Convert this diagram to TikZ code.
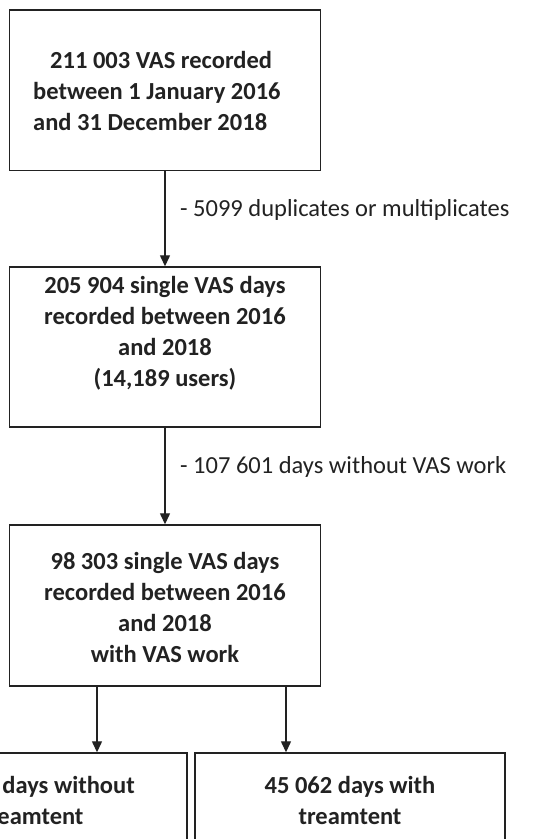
\documentclass[tikz,border=0pt]{standalone}
\usepackage{fontspec}
\setmainfont{Carlito}
\usetikzlibrary{arrows.meta}
\definecolor{ink}{HTML}{222222}
\begin{document}
\begin{tikzpicture}[x=1pt,y=-1pt,
  box/.style={draw=ink, line width=1.4pt, inner sep=0pt},
  lbl/.style={font=\fontsize{24.5}{31}\selectfont\bfseries, text=ink, align=center, inner sep=0pt},
  note/.style={font=\fontsize{24.5}{31}\selectfont, text=ink, anchor=west, inner sep=0pt},
  arr/.style={line width=1.3pt, draw=ink, -{Triangle[length=11pt,width=10pt]}}]
\clip (0,0) rectangle (538,839);
\fill[white] (0,0) rectangle (538,839);
% boxes
\node[box, minimum width=311pt, minimum height=160.5pt] (b1) at (165,90.25) {};
\node[box, minimum width=311pt, minimum height=160pt] (b2) at (165,347) {};
\node[box, minimum width=311pt, minimum height=161pt] (b3) at (165,605.5) {};
\node[box, minimum width=310pt, minimum height=150pt] (b4) at (32,828) {};
\node[box, minimum width=310pt, minimum height=150pt] (b5) at (350,828) {};
% texts
\node[lbl, align=left, anchor=west] (t1) at (33,91) {\hspace*{17pt}211 003 VAS recorded\\between 1 January 2016\\and 31 December 2018};
\node[lbl] (t2) at (165,333) {205 904 single VAS days\\recorded between 2016\\and 2018\\(14,189 users)};
\node[lbl] (t3) at (165,607) {98 303 single VAS days\\recorded between 2016\\and 2018\\with VAS work};
\node[lbl] (t4) at (32,800) {53 241 days without\\treamtent};
\node[lbl] (t5) at (350,800) {45 062 days with\\treamtent};
% arrows
\draw[arr] (b1.south) -- (b2.north);
\draw[arr] (b2.south) -- (b3.north);
\coordinate (c4) at (97,0);
\coordinate (c5) at (286,0);
\draw[arr] (b3.south -| c4) -- (b4.north -| c4);
\draw[arr] (b3.south -| c5) -- (b5.north -| c5);
% side notes
\node[note] (n1) at (180,210) {- 5099 duplicates or multiplicates};
\node[note] (n2) at (180,467) {- 107 601 days without VAS work};
\end{tikzpicture}
\end{document}
